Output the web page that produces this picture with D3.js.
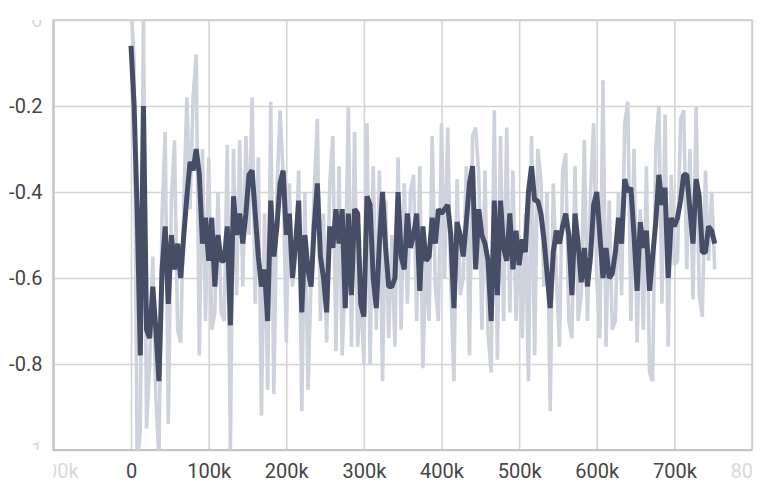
<!DOCTYPE html>
<html><head><meta charset="utf-8">
<script src="https://cdn.jsdelivr.net/npm/d3@7"></script>
<style>body{margin:0;background:#fff;overflow:hidden}svg{display:block}</style>
</head><body><svg id="c" width="765" height="484"></svg>
<script>
const steps = [0,4000,8000,12000,16000,20000,24000,28000,32000,36000,40000,44000,48000,52000,56000,60000,64000,68000,72000,76000,80000,84000,88000,92000,96000,100000,104000,108000,112000,116000,120000,124000,128000,132000,136000,140000,144000,148000,152000,156000,160000,164000,168000,172000,176000,180000,184000,188000,192000,196000,200000,204000,208000,212000,216000,220000,224000,228000,232000,236000,240000,244000,248000,252000,256000,260000,264000,268000,272000,276000,280000,284000,288000,292000,296000,300000,304000,308000,312000,316000,320000,324000,328000,332000,336000,340000,344000,348000,352000,356000,360000,364000,368000,372000,376000,380000,384000,388000,392000,396000,400000,404000,408000,412000,416000,420000,424000,428000,432000,436000,440000,444000,448000,452000,456000,460000,464000,468000,472000,476000,480000,484000,488000,492000,496000,500000,504000,508000,512000,516000,520000,524000,528000,532000,536000,540000,544000,548000,552000,556000,560000,564000,568000,572000,576000,580000,584000,588000,592000,596000,600000,604000,608000,612000,616000,620000,624000,628000,632000,636000,640000,644000,648000,652000,656000,660000,664000,668000,672000,676000,680000,684000,688000,692000,696000,700000,704000,708000,712000,716000,720000,724000,728000,732000,736000,740000,744000,748000,752000];

const rawValues = [
 0.05,-0.1,-1.05,-0.95,0.02,-0.95,-0.8,-0.55,-0.88,-1.02,
 -0.45,-0.26,-0.94,-0.42,-0.28,-0.72,-0.75,-0.42,-0.18,-0.44,
 -0.18,-0.08,-0.78,-0.3,-0.7,-0.32,-0.72,-0.68,-0.4,-0.68,
 -0.7,-0.29,-1.0,-0.3,-0.64,-0.28,-0.62,-0.27,-0.5,-0.18,
 -0.66,-0.32,-0.92,-0.45,-0.86,-0.19,-0.87,-0.4,-0.21,-0.36,
 -0.75,-0.38,-0.62,-0.55,-0.35,-0.91,-0.4,-0.86,-0.6,-0.4,
 -0.23,-0.7,-0.45,-0.75,-0.38,-0.27,-0.77,-0.34,-0.78,-0.6,
 -0.2,-0.76,-0.26,-0.76,-0.62,-0.8,-0.24,-0.8,-0.34,-0.72,
 -0.35,-0.84,-0.42,-0.74,-0.5,-0.76,-0.32,-0.72,-0.38,-0.66,
 -0.4,-0.36,-0.7,-0.34,-0.81,-0.55,-0.7,-0.27,-0.62,-0.7,
 -0.24,-0.6,-0.25,-0.62,-0.84,-0.37,-0.64,-0.6,-0.34,-0.78,
 -0.27,-0.25,-0.36,-0.72,-0.35,-0.73,-0.82,-0.21,-0.79,-0.27,
 -0.7,-0.25,-0.68,-0.35,-0.7,-0.5,-0.74,-0.45,-0.84,-0.27,
 -0.78,-0.3,-0.37,-0.62,-0.4,-0.91,-0.38,-0.6,-0.76,-0.35,
 -0.31,-0.7,-0.74,-0.34,-0.7,-0.64,-0.28,-0.7,-0.4,-0.24,
 -0.6,-0.74,-0.14,-0.76,-0.42,-0.72,-0.7,-0.4,-0.64,-0.24,
 -0.19,-0.7,-0.3,-0.75,-0.44,-0.72,-0.34,-0.82,-0.84,-0.3,
 -0.2,-0.66,-0.22,-0.76,-0.36,-0.57,-0.56,-0.23,-0.21,-0.58,
 -0.3,-0.65,-0.2,-0.64,-0.69,-0.35,-0.56,-0.4,-0.58
];

const smoothedValues = [
 -0.06,-0.2,-0.45,-0.78,-0.2,-0.72,-0.74,-0.62,-0.72,-0.84,
 -0.58,-0.48,-0.66,-0.5,-0.58,-0.52,-0.6,-0.5,-0.41,-0.33,
 -0.35,-0.3,-0.36,-0.52,-0.46,-0.56,-0.46,-0.62,-0.5,-0.56,
 -0.56,-0.48,-0.71,-0.41,-0.5,-0.45,-0.52,-0.45,-0.36,-0.35,
 -0.45,-0.55,-0.62,-0.58,-0.7,-0.42,-0.55,-0.48,-0.38,-0.35,
 -0.5,-0.45,-0.6,-0.52,-0.42,-0.68,-0.5,-0.58,-0.62,-0.48,
 -0.38,-0.55,-0.6,-0.68,-0.48,-0.53,-0.44,-0.52,-0.44,-0.67,
 -0.45,-0.64,-0.44,-0.45,-0.66,-0.69,-0.41,-0.43,-0.6,-0.67,
 -0.52,-0.4,-0.53,-0.62,-0.62,-0.6,-0.4,-0.55,-0.58,-0.45,
 -0.53,-0.5,-0.45,-0.63,-0.48,-0.56,-0.55,-0.46,-0.52,-0.44,
 -0.45,-0.44,-0.43,-0.5,-0.67,-0.47,-0.5,-0.55,-0.47,-0.38,
 -0.34,-0.58,-0.44,-0.5,-0.52,-0.56,-0.7,-0.42,-0.64,-0.42,
 -0.53,-0.56,-0.45,-0.58,-0.49,-0.57,-0.51,-0.54,-0.4,-0.34,
 -0.42,-0.42,-0.45,-0.51,-0.59,-0.67,-0.54,-0.49,-0.52,-0.48,
 -0.45,-0.5,-0.64,-0.45,-0.52,-0.61,-0.53,-0.62,-0.55,-0.43,
 -0.4,-0.5,-0.6,-0.53,-0.6,-0.59,-0.54,-0.46,-0.52,-0.37,
 -0.4,-0.39,-0.5,-0.63,-0.47,-0.53,-0.49,-0.63,-0.55,-0.47,
 -0.36,-0.43,-0.39,-0.6,-0.46,-0.48,-0.46,-0.42,-0.36,-0.36,
 -0.44,-0.52,-0.37,-0.41,-0.54,-0.54,-0.48,-0.49,-0.52
];

const xTicks = [-100000,0,100000,200000,300000,400000,500000,600000,700000,800000];
const yTicks = [0,-0.2,-0.4,-0.6,-0.8,-1];
const xDomain = [-100000, 800000];
const yDomain = [-1, 0];

const plot = {l:53.4, r:752, t:20, b:450};
const svg = d3.select('#c');
svg.append('rect').attr('width',765).attr('height',484).attr('fill','#fff');

const x = d3.scaleLinear().domain(xDomain).range([plot.l, plot.r]);
const y = d3.scaleLinear().domain(yDomain).range([plot.b, plot.t]);

const defs = svg.append('defs');
defs.append('clipPath').attr('id','plotClip').append('rect')
  .attr('x',plot.l).attr('y',plot.t).attr('width',plot.r-plot.l).attr('height',plot.b-plot.t);
defs.append('clipPath').attr('id','xLabClip').append('rect')
  .attr('x',plot.l).attr('y',plot.b).attr('width',plot.r-plot.l).attr('height',40);
defs.append('clipPath').attr('id','yLabClip').append('rect')
  .attr('x',0).attr('y',plot.t).attr('width',plot.l).attr('height',plot.b-plot.t);

const fmtX = v => v===0 ? '0' : (v/1000)+'k';
const fmtY = v => String(v);
const font = 'Roboto, "Noto Sans", sans-serif';

// gridlines
const gx = svg.append('g').attr('transform',`translate(0,${plot.b})`)
  .call(d3.axisBottom(x).tickValues(xTicks).tickSize(-(plot.b-plot.t)).tickFormat(''));
gx.select('.domain').remove();
gx.selectAll('line').attr('stroke','#d4d4d4').attr('stroke-width',1.6);

const gy = svg.append('g').attr('transform',`translate(${plot.l},0)`)
  .call(d3.axisLeft(y).tickValues(yTicks).tickSize(-(plot.r-plot.l)).tickFormat(''));
gy.select('.domain').remove();
gy.selectAll('line').attr('stroke','#d4d4d4').attr('stroke-width',1.6);

// frame
svg.append('rect').attr('x',plot.l).attr('y',plot.t).attr('width',plot.r-plot.l).attr('height',plot.b-plot.t)
  .attr('fill','none').attr('stroke','#d0d0d0').attr('stroke-width',1.6);
svg.append('line').attr('x1',plot.l).attr('x2',plot.l).attr('y1',plot.t).attr('y2',plot.b+1)
  .attr('stroke','#c4c4c4').attr('stroke-width',2);
svg.append('line').attr('x1',plot.l).attr('x2',plot.r).attr('y1',plot.b).attr('y2',plot.b)
  .attr('stroke','#c4c4c4').attr('stroke-width',2);

// tick labels via axes (outer group clipped, inner group translated)
const lxOuter = svg.append('g').attr('clip-path','url(#xLabClip)');
const lx = lxOuter.append('g').attr('transform',`translate(0,${plot.b})`)
  .call(d3.axisBottom(x).tickValues(xTicks).tickSize(0).tickPadding(13.5).tickFormat(fmtX));
lx.select('.domain').remove();
lx.selectAll('text').attr('font-family',font).attr('font-size',20)
  .attr('fill', d => (d===xDomain[0]||d===xDomain[1]) ? '#d9d9d9' : '#454545');

const lyOuter = svg.append('g').attr('clip-path','url(#yLabClip)');
const ly = lyOuter.append('g').attr('transform',`translate(${plot.l},0)`)
  .call(d3.axisLeft(y).tickValues(yTicks).tickSize(0).tickPadding(11).tickFormat(fmtY));
ly.select('.domain').remove();
ly.selectAll('text').attr('font-family',font).attr('font-size',20)
  .attr('fill', d => (d===yDomain[0]||d===yDomain[1]) ? '#d9d9d9' : '#454545');

// series
const rawData = steps.map((s,i)=>({s, v: rawValues[i]}));
const smData = steps.map((s,i)=>({s, v: smoothedValues[i]}));
const line = d3.line().x(d=>x(d.s)).y(d=>y(d.v));
const lines = svg.append('g').attr('clip-path','url(#plotClip)');
lines.append('path').datum(rawData).attr('d',line).attr('fill','none')
  .attr('stroke','#cdd2dd').attr('stroke-width',3.6).attr('stroke-linejoin','bevel');
lines.append('path').datum(smData).attr('d',line).attr('fill','none')
  .attr('stroke','#454e66').attr('stroke-width',5).attr('stroke-linejoin','bevel');
</script></body></html>
